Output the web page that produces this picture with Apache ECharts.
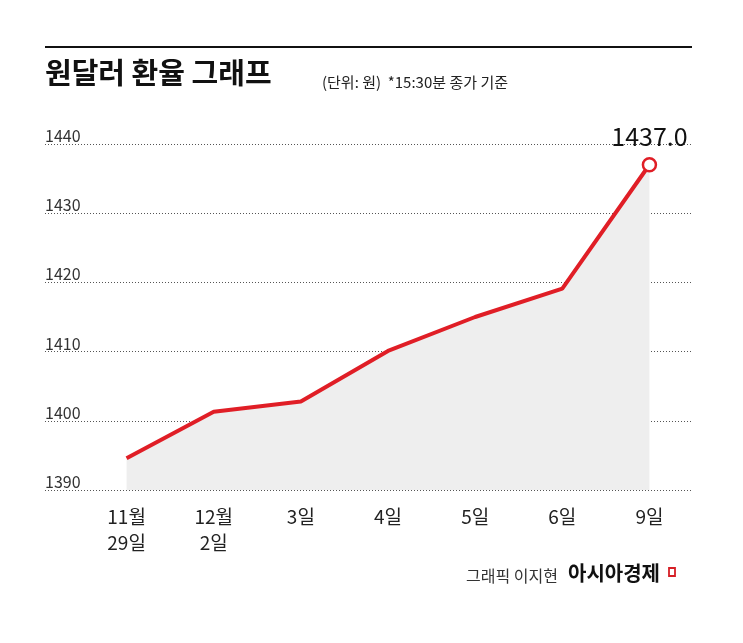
<!DOCTYPE html>
<html><head><meta charset="utf-8">
<script src="https://cdn.jsdelivr.net/npm/echarts@6/dist/echarts.min.js"></script>
<style>html,body{margin:0;background:#fff}#c{width:743px;height:643px}</style></head>
<body><div id="c"></div>
<script>
const categories = ['11월\n29일','12월\n2일','3일','4일','5일','6일','9일'];
const rates = [1394.6, 1401.3, 1402.8, 1410.1, 1415.0, 1419.1, 1437.0];
const yTicks = [1390, 1400, 1410, 1420, 1430, 1440];
const font = '"Noto Sans CJK KR", "Noto Sans", sans-serif';
const chart = echarts.init(document.getElementById('c'));
chart.setOption({
  animation: false,
  textStyle: { fontFamily: font },
  graphic: [
    { type: 'rect', shape: { x: 45, y: 46, width: 647, height: 2 }, style: { fill: '#111' } },
    { type: 'text', left: 45, top: 58, style: { text: '원달러 환율 그래프', font: 'bold 29px ' + font, fill: '#111' } },
    { type: 'text', left: 322, top: 75, style: { text: '(단위: 원)  *15:30분 종가 기준', font: '15px ' + font, fill: '#222' } },
    { type: 'text', left: 466, top: 568, style: { text: '그래픽 이지현', font: '16px ' + font, fill: '#333' } },
    { type: 'text', left: 568, top: 563, style: { text: '아시아경제', font: 'bold 20px ' + font, fill: '#111' } },
    { type: 'rect', shape: { x: 669, y: 568, width: 6, height: 8 }, style: { fill: 'none', stroke: '#d61f26', lineWidth: 1.8 } }
  ],
  grid: [
    { left: 45, right: 51, top: 144, bottom: 153 },
    { left: 83, right: 50, top: 144, bottom: 153 }
  ],
  xAxis: [
    { gridIndex: 0, type: 'category', data: categories, show: false },
    { gridIndex: 1, type: 'category', data: categories, boundaryGap: true,
      axisLine: { show: false }, axisTick: { show: false },
      axisLabel: { color: '#222', fontSize: 19, lineHeight: 26, margin: 14, fontFamily: font } }
  ],
  yAxis: [
    { gridIndex: 0, type: 'value', min: 1390, max: 1440, interval: 10,
      axisLine: { show: false }, axisTick: { show: false },
      splitLine: { lineStyle: { color: '#555', type: [1, 2], width: 1 } },
      axisLabel: { inside: true, verticalAlign: 'bottom', margin: 0, color: '#333', fontSize: 16, fontFamily: font,
        formatter: v => yTicks.includes(v) ? String(v) : '' } },
    { gridIndex: 1, type: 'value', min: 1390, max: 1440, interval: 10, show: false, splitLine: { show: false } }
  ],
  series: [{
    type: 'line', xAxisIndex: 1, yAxisIndex: 1, data: rates,
    lineStyle: { color: '#e01e26', width: 4 },
    areaStyle: { color: '#eeeeee', opacity: 1 },
    symbol: 'none',
    markPoint: {
      symbol: 'circle', symbolSize: 13,
      itemStyle: { color: '#fff', borderColor: '#e01e26', borderWidth: 2.5 },
      label: { show: true, position: 'top', distance: 8, formatter: p => p.value.toFixed(1),
        fontSize: 25, color: '#111', fontFamily: font },
      data: [{ coord: [6, rates[6]], value: rates[6] }]
    }
  }]
});
</script></body></html>
